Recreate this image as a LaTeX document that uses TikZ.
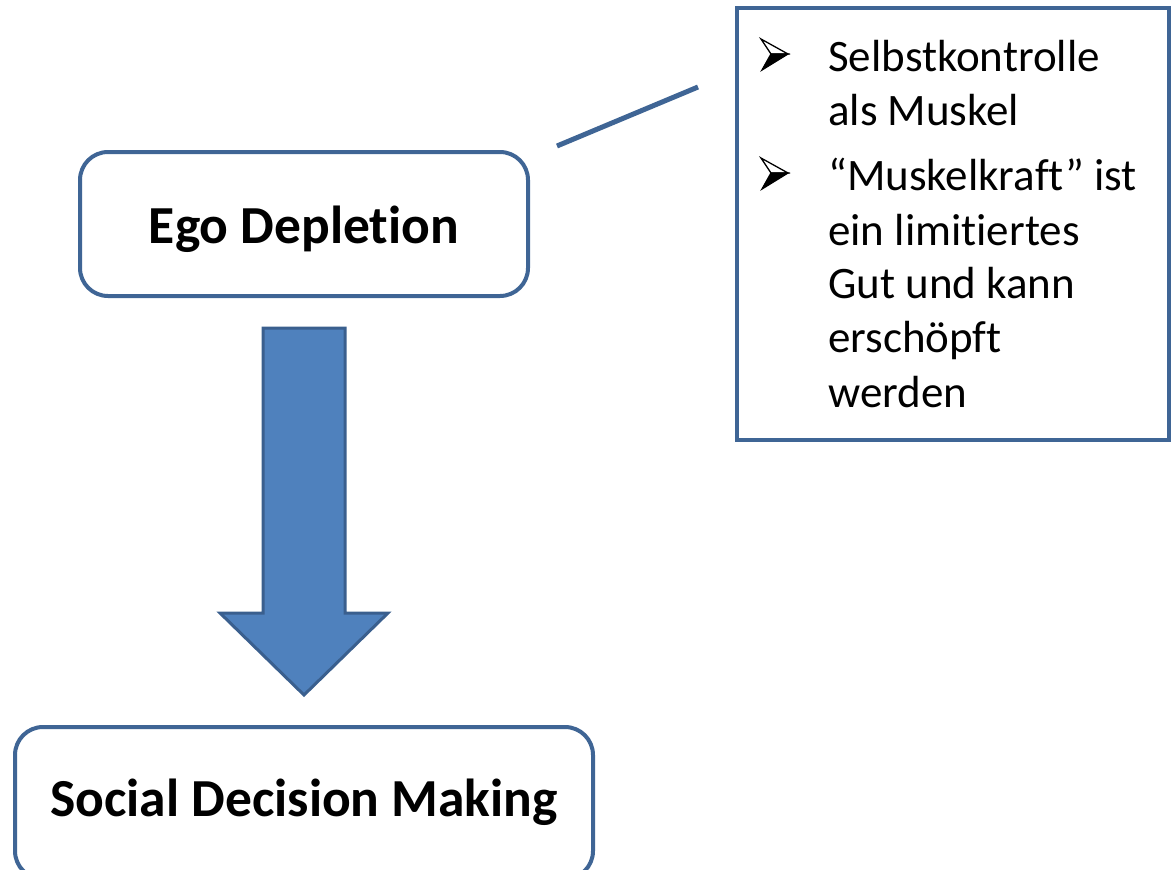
\documentclass[tikz,border=0pt]{standalone}
\usepackage{fontspec}
\setmainfont[Ligatures=NoCommon]{Carlito}
\usetikzlibrary{calc}
\definecolor{frameblue}{HTML}{3F6595}
\definecolor{arrowfill}{HTML}{4F81BD}
\definecolor{arrowedge}{HTML}{3A5F8E}
\tikzset{
  roundbox/.style={draw=frameblue, line width=4pt, rounded corners=28pt,
    fill=white, inner sep=0pt, text depth=0pt,
    font=\fontsize{53.5}{64}\selectfont\bfseries},
  notebox/.style={draw=frameblue, line width=4pt, inner sep=0pt},
  noteline/.style={font=\fontsize{45}{54}\selectfont, inner sep=0pt, anchor=base west},
  linker/.style={draw=frameblue, line width=5pt},
  bigarrow/.style={fill=arrowfill, draw=arrowedge, line width=3pt, line join=miter},
  % three-dimensional arrowhead used as a list bullet
  arrowbullet/.pic={
    \filldraw[fill=white, draw=black, line width=1.3pt, line join=miter]
      (0,-31) -- (27,-16) -- (10,-16) -- cycle;
    \filldraw[fill=black, draw=black, line width=1.3pt, line join=miter]
      (10,-16) -- (27,-16) -- (1,0) -- cycle;
  }
}
\begin{document}
\begin{tikzpicture}[x=1pt,y=-1pt]
\useasboundingbox (0,0) rectangle (1173,870);

% boxes
\node[roundbox, minimum width=448pt, minimum height=144pt, text height=38pt] (ego) at (304,224) {Ego Depletion};
\node[roundbox, minimum width=578pt, minimum height=152pt, text height=26pt] (soc) at (304,803) {Social Decision Making};
\node[notebox, minimum width=432pt, minimum height=432pt] (note) at (953,224) {};

% block arrow between the two boxes
\coordinate (atop) at ($(ego.south)+(0,30)$);
\coordinate (atip) at ($(soc.north)+(0,-30)$);
\path[bigarrow] ($(atop)+(-41,0)$) -- ($(atop)+(41,0)$) -- ($(atip)+(41,-82)$)
  -- ($(atip)+(84,-82)$) -- (atip) -- ($(atip)+(-84,-82)$) -- ($(atip)+(-41,-82)$) -- cycle;

% link from the box to the note
\coordinate (l1) at ($(ego.north east)+(27,-4)$);
\coordinate (l2) at ($(note.north west)+(-37,81)$);
\draw[linker] (l1) -- (l2);

% note text
\pic at (761,70) {arrowbullet};
\node[noteline] (t1) at (828,71) {Selbstkontrolle};
\node[noteline] (t2) at (828,125) {als Muskel};
\pic at (761,189) {arrowbullet};
\node[noteline] (t3) at (828,190) {“Muskelkraft” ist};
\node[noteline] (t4) at (828,245) {ein limitiertes};
\node[noteline] (t5) at (828,298) {Gut und kann};
\node[noteline] (t6) at (828,352) {erschöpft};
\node[noteline] (t7) at (828,407) {werden};
\end{tikzpicture}
\end{document}
